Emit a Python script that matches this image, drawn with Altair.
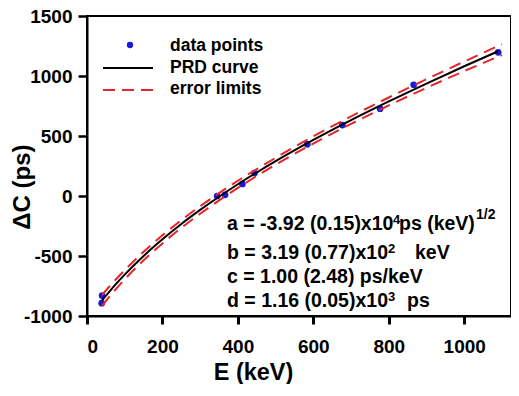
import altair as alt
import pandas as pd

FONT = "Liberation Sans"
BLUE = "#1a1ad6"
RED = "#e5252a"

# measured data points (E in keV, delta C in ps)
E_pts = [39, 40, 345, 366, 412, 444, 584, 677, 777, 866, 1090]
dC_pts = [-893, -830, 0, 10, 100, 191, 431, 591, 728, 927, 1197]

# PRD curve
E_curve = [40, 60, 80, 100, 150, 200, 250, 300, 350, 400, 450, 500, 600, 700, 800, 900, 1000, 1090]
dC_curve = [-869, -794, -722, -655, -500, -361, -233, -116, -6, 98, 196, 290, 467, 632, 788, 937, 1081, 1206]

# error limits
E_lim = [40, 60, 80, 100, 150, 200, 250, 300, 350, 400, 450, 500, 600, 700, 800, 900, 1000, 1100]
upper = [-825, -752, -683, -618, -465, -328, -201, -85, 24, 127, 224, 318, 497, 663, 821, 973, 1121, 1264]
lower = [-915, -837, -763, -694, -536, -395, -266, -148, -37, 68, 167, 261, 437, 601, 755, 901, 1041, 1174]

x_ticks = [0, 200, 400, 600, 800, 1000]
y_ticks = [-1000, -500, 0, 500, 1000, 1500]

pts = pd.DataFrame({"E": E_pts, "dC": dC_pts})
curve = pd.DataFrame({"E": E_curve, "dC": dC_curve})
lims = pd.concat([
    pd.DataFrame({"E": E_lim, "dC": upper, "which": "upper"}),
    pd.DataFrame({"E": E_lim, "dC": lower, "which": "lower"}),
])

xscale = alt.Scale(domain=[0, 1124], nice=False, zero=False)
yscale = alt.Scale(domain=[-1000, 1500], nice=False, zero=False)

xaxis = alt.Axis(values=x_ticks, labelExpr="datum.value + ''", tickSize=8, tickWidth=3,
                 labelFontSize=19, labelPadding=13, title="E (keV)", titleFontSize=23.5,
                 titleX=166, titleY=63, titleBaseline="alphabetic", titleAlign="center")
yaxis = alt.Axis(values=y_ticks, labelExpr="datum.value + ''", tickSize=9, tickWidth=2.5,
                 labelFontSize=19, labelPadding=6, title=None)

points = alt.Chart(pts).mark_point(filled=True, shape="circle", size=45, color=BLUE, opacity=1).encode(
    x=alt.X("E:Q", scale=xscale, axis=xaxis),
    y=alt.Y("dC:Q", scale=yscale, axis=yaxis),
)

line = alt.Chart(curve).mark_line(color="black", strokeWidth=2, interpolate="monotone").encode(
    x=alt.X("E:Q", scale=xscale),
    y=alt.Y("dC:Q", scale=yscale),
)

dashed = alt.Chart(lims).mark_line(color=RED, strokeWidth=2, strokeDash=[12, 7], interpolate="monotone").encode(
    x=alt.X("E:Q", scale=xscale),
    y=alt.Y("dC:Q", scale=yscale),
    detail="which:N",
)

one = alt.Data(values=[{}])


def label(txt, x, y, size, align="left", angle=0):
    return alt.Chart(one).mark_text(
        text=txt, align=align, baseline="alphabetic", font=FONT, angle=angle,
        fontWeight="bold", fontSize=size, color="black"
    ).encode(x=alt.value(x), y=alt.value(y))


ytitle = label("ΔC (ps)", -57, 171, 24, align="center", angle=270)

# legend
leg_dot = alt.Chart(one).mark_point(filled=True, shape="circle", size=40, color=BLUE, opacity=1).encode(
    x=alt.value(43), y=alt.value(29))
leg_line = alt.Chart(one).mark_rule(color="black", strokeWidth=2).encode(
    x=alt.value(16), x2=alt.value(66), y=alt.value(52))
leg_dash = alt.Chart(one).mark_rule(color=RED, strokeWidth=2, strokeDash=[12, 7]).encode(
    x=alt.value(16), x2=alt.value(66), y=alt.value(74))
leg_texts = [
    label("data points", 83, 35, 17.5),
    label("PRD curve", 83, 57, 17.5),
    label("error limits", 83, 78, 17.5),
]

# parameter annotations
S = 19.5
SUP = 13
ann = [
    label("a = -3.92 (0.15)x10", 140, 214, S),
    label("4", 306, 208, SUP),
    label("ps (keV)", 312, 214, S),
    label("1/2", 389, 203, 14),
    label("b = 3.19 (0.77)x10", 140, 243, S),
    label("2", 301, 237, SUP),
    label("keV", 328, 243, S),
    label("c = 1.00 (2.48)  ps/keV", 140, 267, S),
    label("d = 1.16 (0.05)x10", 140, 291, S),
    label("3", 301, 285, SUP),
    label("ps", 320, 291, S),
]

chart = alt.layer(points, line, dashed, ytitle, leg_dot, leg_line, leg_dash, *leg_texts, *ann).properties(
    width=424, height=300,
    autosize=alt.AutoSizeParams(type="none"),
    padding={"left": 79, "top": 8, "right": 0, "bottom": 68},
).configure_view(
    stroke="black", strokeWidth=2
).configure_axis(
    grid=False, domainColor="black", domainWidth=2, tickColor="black",
    labelFont=FONT, labelFontWeight="bold", labelColor="black",
    titleFont=FONT, titleFontWeight="bold", titleColor="black",
)

chart.save("out.html", embed_options={"renderer": "svg", "actions": False})
